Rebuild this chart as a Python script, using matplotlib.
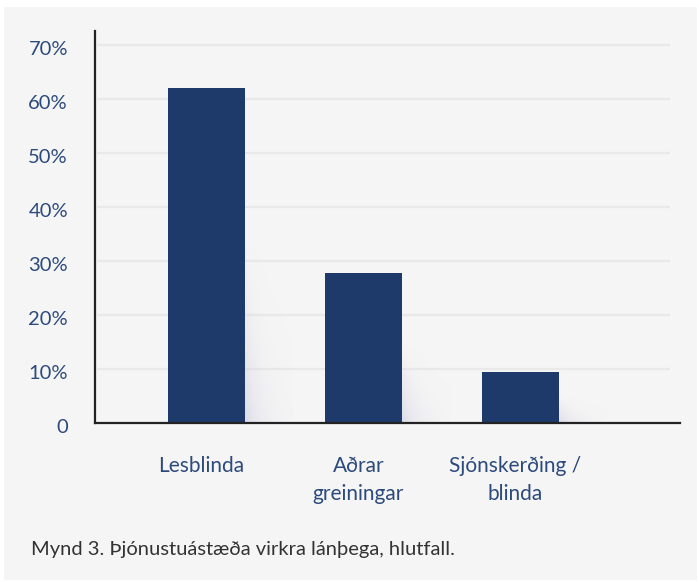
import numpy as np
import matplotlib.pyplot as plt
from matplotlib.patches import Rectangle
from matplotlib.transforms import ScaledTranslation

categories = ["Lesblinda", "Aðrar\ngreiningar", "Sjónskerðing /\nblinda"]
values = [62.0, 27.8, 9.5]
yticks = [0, 10, 20, 30, 40, 50, 60, 70]
ytick_labels = ["0", "10%", "20%", "30%", "40%", "50%", "60%", "70%"]
caption = "Mynd 3. Þjónustuástæða virkra lánþega, hlutfall."

BAR = "#1e3a6b"
TXT = "#2c4a7c"
BG = "#f5f5f5"

plt.rcParams['font.family'] = ['Lato', 'DejaVu Sans']

fig = plt.figure(figsize=(6.99, 5.82), dpi=100, facecolor="white")
W, H = 699, 582
fig.add_artist(Rectangle((4 / W, 1 - 580 / H), 693 / W, 573 / H,
                         transform=fig.transFigure, facecolor=BG,
                         edgecolor="none", zorder=0))

ax = fig.add_axes([95 / W, 1 - 423 / H, 585 / W, (423 - 30.7) / H])
ax.set_facecolor(BG)
ax.patch.set_alpha(0)

x = np.arange(len(categories))
bw = 0.49

# grid lines (stop a bit short of the axis end)
for t in yticks[1:]:
    ax.plot([-0.70, 2.95], [t, t], color="#e9e9e9", lw=1.6, zorder=1,
            solid_capstyle="butt")

# soft shadow to the right of each bar
for xi, v in zip(x, values):
    sh = v * 0.55
    sw = 0.30
    gx = np.linspace(0, 1, 80)
    gy = np.linspace(0, 1, 80)
    GX, GY = np.meshgrid(gx, gy)
    # GY=0 top of shadow area, 1 at bottom
    spread = 0.25 + 0.75 * GY
    alpha = 0.6 * GY ** 1.2 * np.exp(-GX / (0.35 * spread))
    img = np.zeros((80, 80, 4))
    img[..., 0] = 0.80
    img[..., 1] = 0.80
    img[..., 2] = 0.88
    img[..., 3] = alpha
    ax.imshow(img, extent=[xi + bw / 2, xi + bw / 2 + sw, 0, sh],
              aspect="auto", interpolation="bilinear", zorder=1.5)

ax.bar(x, values, width=bw, color=BAR, zorder=2)

ax.set_xlim(-0.71, 3.016)
ax.set_ylim(0, 72.65)

for s in ["top", "right"]:
    ax.spines[s].set_visible(False)
for s in ["left", "bottom"]:
    ax.spines[s].set_color("#222222")
    ax.spines[s].set_linewidth(1.6)
    ax.spines[s].set_zorder(3)

ax.set_yticks(yticks)
ax.set_yticklabels(ytick_labels)
ax.set_xticks(x)
ax.set_xticklabels(categories, linespacing=1.5)
ax.tick_params(axis="y", length=0, pad=19.5, labelsize=14.5, labelcolor=TXT)
ax.tick_params(axis="x", length=0, pad=24, labelsize=15, labelcolor=TXT)
shift = ScaledTranslation(-5 / 100, 0, fig.dpi_scale_trans)
for lab in ax.get_xticklabels():
    lab.set_transform(lab.get_transform() + shift)
    lab.set_verticalalignment("top")
yshift = ScaledTranslation(0, -3 / 100, fig.dpi_scale_trans)
for lab in ax.get_yticklabels():
    lab.set_transform(lab.get_transform() + yshift)

fig.text(31 / W, 1 - 550 / H, caption, fontsize=14.5, color="#333333",
         ha="left", va="center")

fig.savefig("out.png", dpi=100, facecolor="white")
